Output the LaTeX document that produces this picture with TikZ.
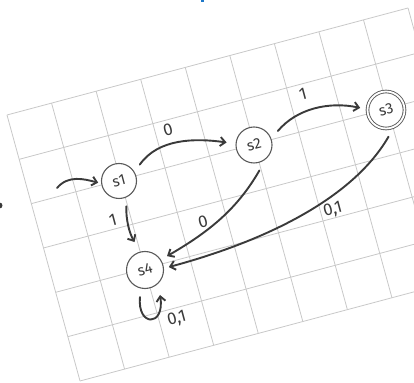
\documentclass[tikz,border=0pt]{standalone}
\usepackage{fontspec}
\usepackage{graphicx}
\setmainfont{Fira Sans}
\usetikzlibrary{arrows.meta,calc}
\definecolor{gridc}{HTML}{C8C8C8}
\definecolor{ink}{HTML}{3A3A3A}
\definecolor{ring}{HTML}{5A5A5A}
\definecolor{bluefrag}{HTML}{1E78C8}
\begin{document}
\begin{tikzpicture}[x=1pt,y=1pt,
  gridline/.style={draw=gridc,line width=0.8pt},
  state/.style={circle,draw=ring,line width=1.1pt,fill=white,minimum size=35pt,inner sep=0pt,text=ink,font=\fontsize{15}{15}\selectfont},
  accept/.style={state,double=white,double distance=1.8pt,line width=0.9pt,minimum size=37pt},
  edge/.style={draw=ink,line width=1.9pt,line cap=round,-{Straight Barb[length=5pt,width=9pt]}},
  lbl/.style={text=ink,font=\fontsize{17}{17}\selectfont,rotate=15,inner sep=0pt}]
\useasboundingbox (0,0) rectangle (414,382);
\clip (0,0) rectangle (414,382);
% grid
\begin{scope}[shift={(7,267)},x={(44.56pt,11.89pt)},y={(12.17pt,-44.33pt)}]
  \foreach \i in {0,...,9} \draw[gridline] (\i,0) -- (\i,6);
  \foreach \j in {0,...,6} \draw[gridline] (0,\j) -- (9,\j);
\end{scope}
% cropped fragments
\fill[bluefrag] (201,380.3) rectangle (204,382);
\fill[ink] (-0.5,176.5) circle (3);
% states
\node[state] (s1) at (119,201) {\rotatebox{15}{s1}};
\node[state,minimum size=36pt] (s2) at (254,237) {\rotatebox{15}{s2}};
\node[accept] (s3) at (386,272) {\rotatebox{15}{s3}};
\node[state,minimum size=37pt] (s4) at (145,112) {\rotatebox{15}{s4}};
\coordinate (start) at (57,194);
% edges
\draw[edge,shorten >=3pt] (start) to[out=50,in=165] (s1.188);
\draw[edge,shorten <=9pt,shorten >=9pt] (s1.30) to[out=55,in=172] (s2.176);
\draw[edge,shorten <=10pt,shorten >=7pt] (s2.20) to[out=50,in=168] (s3.178);
\draw[edge,shorten <=13pt,shorten >=7pt] (s2.310) to[out=240,in=30] (s4.33);
\draw[edge,shorten <=11pt,shorten >=5pt] (s3.295) to[out=240,in=15,looseness=0.85] (s4.5);
\draw[edge,shorten <=9pt,shorten >=11pt] (s1.295) to[out=268,in=120] (s4.105);
\draw[edge] ([shift={(-5,-27)}]s4.center) .. controls +(-3,-30) and +(5,-32) .. ([shift={(15,-25)}]s4.center);
% labels
\node[lbl] (l01) at (168,252) {0};
\node[lbl] (l12) at (303,288) {1};
\node[lbl] (l24) at (203,160) {0};
\node[lbl] (l34) at (333,172) {0,1};
\node[lbl] (l14) at (113,162) {1};
\node[lbl] (l44) at (177,63) {0,1};
\end{tikzpicture}
\end{document}
